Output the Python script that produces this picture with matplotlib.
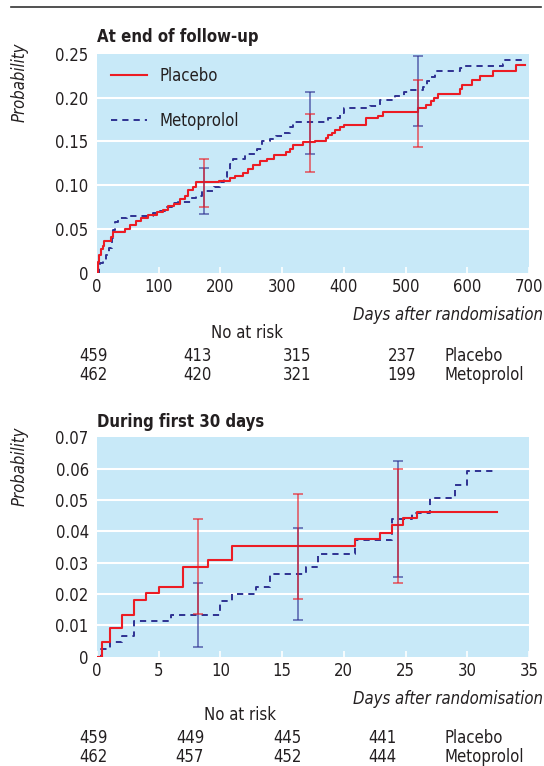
import matplotlib
matplotlib.use("Agg")
import matplotlib.pyplot as plt
from matplotlib.lines import Line2D

plt.rcParams['font.family'] = ['Liberation Sans Narrow', 'DejaVu Sans']
plt.rcParams['font.stretch'] = 'condensed'

# ---- top panel: at end of follow-up ----
top_placebo_days = [0, 2, 4, 6, 9, 12, 22, 26, 45, 53, 64, 72, 83, 97, 107, 115, 124, 135, 143, 148,
                    155, 161, 197, 216, 224, 237, 245, 253, 264, 275, 286, 306, 313, 317, 333, 353,
                    371, 375, 380, 385, 393, 400, 436, 456, 464, 520, 533, 542, 546, 553, 589, 591,
                    607, 620, 641, 679, 694]
top_placebo_prob = [0, 0.012, 0.020, 0.027, 0.031, 0.036, 0.041, 0.047, 0.050, 0.054, 0.059, 0.062,
                    0.066, 0.069, 0.072, 0.076, 0.079, 0.084, 0.088, 0.094, 0.098, 0.104, 0.105,
                    0.108, 0.111, 0.114, 0.118, 0.123, 0.128, 0.130, 0.135, 0.138, 0.141, 0.146,
                    0.149, 0.151, 0.154, 0.157, 0.160, 0.163, 0.166, 0.169, 0.177, 0.179, 0.184,
                    0.188, 0.192, 0.196, 0.200, 0.204, 0.210, 0.214, 0.220, 0.225, 0.231, 0.237, 0.237]
top_meto_days = [0, 3, 5, 10, 15, 19, 24, 26, 29, 34, 48, 91, 102, 110, 121, 132, 153, 161, 170, 189,
                 199, 205, 210, 216, 221, 240, 259, 267, 280, 290, 300, 312, 318, 375, 394, 400, 442,
                 459, 483, 497, 507, 529, 534, 539, 548, 588, 596, 658, 661, 694]
top_meto_prob = [0, 0.006, 0.011, 0.015, 0.020, 0.028, 0.040, 0.049, 0.058, 0.063, 0.065, 0.068,
                 0.070, 0.075, 0.080, 0.081, 0.085, 0.088, 0.093, 0.098, 0.104, 0.109, 0.115, 0.124,
                 0.130, 0.136, 0.141, 0.151, 0.153, 0.156, 0.160, 0.167, 0.172, 0.177, 0.182, 0.188,
                 0.191, 0.197, 0.202, 0.206, 0.209, 0.212, 0.219, 0.224, 0.231, 0.234, 0.236, 0.239,
                 0.243, 0.243]
top_ci_days = [173, 345, 520]
top_placebo_lo = [0.075, 0.115, 0.144]
top_placebo_hi = [0.130, 0.181, 0.220]
top_meto_lo = [0.067, 0.136, 0.168]
top_meto_hi = [0.120, 0.207, 0.248]
top_risk_placebo = ["459", "413", "315", "237"]
top_risk_meto = ["462", "420", "321", "199"]

# ---- bottom panel: during first 30 days ----
bot_placebo_days = [0, 0.4, 1.05, 2, 3, 4, 5, 7, 9, 10.9, 20.9, 22.9, 23.9, 24.8, 25.9, 32.4]
bot_placebo_prob = [0, 0.0046, 0.0092, 0.0134, 0.018, 0.0202, 0.0221, 0.0287, 0.0307, 0.0353,
                    0.0375, 0.0396, 0.0419, 0.0442, 0.0463, 0.0463]
bot_meto_days = [0, 0.3, 1.05, 2, 3, 6, 10, 10.9, 12.9, 14, 16.9, 17.9, 20.9, 23.9, 25.5, 27, 29,
                 30, 32.3]
bot_meto_prob = [0, 0.0026, 0.0048, 0.0067, 0.0113, 0.0133, 0.0178, 0.0199, 0.0221, 0.0265, 0.0287,
                 0.0328, 0.0372, 0.0438, 0.0458, 0.0505, 0.0548, 0.0593, 0.0593]
bot_ci_days = [8.2, 16.3, 24.4]
bot_placebo_lo = [0.0135, 0.0184, 0.0236]
bot_placebo_hi = [0.0439, 0.0519, 0.0600]
bot_meto_lo = [0.0030, 0.0117, 0.0253]
bot_meto_hi = [0.0236, 0.0410, 0.0624]
bot_risk_placebo = ["459", "449", "445", "441"]
bot_risk_meto = ["462", "457", "452", "444"]

RED = "#ec1c24"
BLUE = "#2e3192"
BG = "#c8e9f8"
TXT = "#231f20"
DASH = (3.2, 2.6)
W, H = 544, 766


def fx(x):
    return x / W


def fy(y):
    return 1 - y / H


fig = plt.figure(figsize=(5.44, 7.66), dpi=100)


def panel(rect, pd, pp, md, mp, ci_x, plo, phi, mlo, mhi, xmax, xstep, ymax, ystep, ylabels):
    ax = fig.add_axes(rect)
    ax.set_facecolor(BG)
    for s in ax.spines.values():
        s.set_visible(False)
    ax.set_xlim(0, xmax)
    ax.set_ylim(0, ymax)
    yt = [i * ystep for i in range(len(ylabels))]
    ax.set_yticks(yt)
    ax.set_yticklabels(ylabels)
    for v in yt[1:-1]:
        ax.axhline(v, color="white", lw=1.5, zorder=1)
    xt = list(range(0, xmax + 1, xstep))
    ax.set_xticks(xt)
    ax.set_xticklabels([str(v) for v in xt])
    ax.tick_params(axis="x", direction="in", length=4, width=1.2, color="white", pad=4,
                   labelsize=12, labelcolor=TXT)
    ax.tick_params(axis="y", length=0, pad=6, labelsize=12, labelcolor=TXT)
    ax.step(md, mp, where="post", color=BLUE, lw=1.4, dashes=DASH, zorder=3)
    ax.step(pd, pp, where="post", color=RED, lw=1.5, zorder=4)
    ax.errorbar(ci_x, [(a + b) / 2 for a, b in zip(mlo, mhi)],
                yerr=[[(b - a) / 2 for a, b in zip(mlo, mhi)], [(b - a) / 2 for a, b in zip(mlo, mhi)]],
                fmt="none", ecolor=BLUE, elinewidth=1.1, capsize=3.5, capthick=1.1, alpha=0.75,
                zorder=5)
    ax.errorbar(ci_x, [(a + b) / 2 for a, b in zip(plo, phi)],
                yerr=[[(b - a) / 2 for a, b in zip(plo, phi)], [(b - a) / 2 for a, b in zip(plo, phi)]],
                fmt="none", ecolor=RED, elinewidth=1.1, capsize=3.5, capthick=1.1, alpha=0.75,
                zorder=6)
    return ax


ax1 = panel([fx(97), fy(272.7), fx(529 - 97), (272.7 - 54) / H],
            top_placebo_days, top_placebo_prob, top_meto_days, top_meto_prob,
            top_ci_days, top_placebo_lo, top_placebo_hi, top_meto_lo, top_meto_hi,
            700, 100, 0.25, 0.05, ["0", "0.05", "0.10", "0.15", "0.20", "0.25"])
ax2 = panel([fx(97), fy(656.7), fx(529 - 97), (656.7 - 437.3) / H],
            bot_placebo_days, bot_placebo_prob, bot_meto_days, bot_meto_prob,
            bot_ci_days, bot_placebo_lo, bot_placebo_hi, bot_meto_lo, bot_meto_hi,
            35, 5, 0.07, 0.01, ["0", "0.01", "0.02", "0.03", "0.04", "0.05", "0.06", "0.07"])

handles = [Line2D([], [], color=RED, lw=1.5),
           Line2D([], [], color=BLUE, lw=1.4, dashes=DASH)]
ax1.legend(handles, ["Placebo", "Metoprolol"], loc="upper left", bbox_to_anchor=(0.032, 0.94),
           frameon=False, fontsize=12, handlelength=2.2, handletextpad=0.75, labelspacing=1.6,
           borderpad=0, borderaxespad=0, labelcolor=TXT)

# top rule
fig.add_artist(Line2D([fx(11), fx(541)], [fy(7), fy(7)], color="#333333", lw=1.2))

# titles and axis labels
fig.text(fx(97), fy(37), "At end of follow-up", fontsize=12, fontweight="bold", color=TXT,
         ha="left", va="center")
fig.text(fx(97), fy(422), "During first 30 days", fontsize=12, fontweight="bold", color=TXT,
         ha="left", va="center")
fig.text(fx(20), fy(82), "Probability", fontsize=12, style="italic", rotation=90, color=TXT,
         ha="center", va="center")
fig.text(fx(20), fy(466), "Probability", fontsize=12, style="italic", rotation=90, color=TXT,
         ha="center", va="center")
fig.text(fx(543), fy(315), "Days after randomisation", fontsize=12, style="italic", color=TXT,
         ha="right", va="center")
fig.text(fx(543), fy(699), "Days after randomisation", fontsize=12, style="italic", color=TXT,
         ha="right", va="center")


# numbers at risk
def risk_table(y0, cols, placebo, meto, title_x):
    fig.text(fx(title_x), fy(y0), "No at risk", fontsize=12, color=TXT, ha="center", va="center")
    for x, a, b in zip(cols, placebo, meto):
        fig.text(fx(x), fy(y0 + 23), a, fontsize=12, color=TXT, ha="center", va="center")
        fig.text(fx(x), fy(y0 + 42), b, fontsize=12, color=TXT, ha="center", va="center")
    fig.text(fx(445), fy(y0 + 23), "Placebo", fontsize=12, color=TXT, ha="left", va="center")
    fig.text(fx(445), fy(y0 + 42), "Metoprolol", fontsize=12, color=TXT, ha="left", va="center")


risk_table(333, [93, 197, 297, 402], top_risk_placebo, top_risk_meto, 247)
risk_table(715, [93, 190, 287, 382], bot_risk_placebo, bot_risk_meto, 240)

fig.savefig("out.png", dpi=100, facecolor="white")
